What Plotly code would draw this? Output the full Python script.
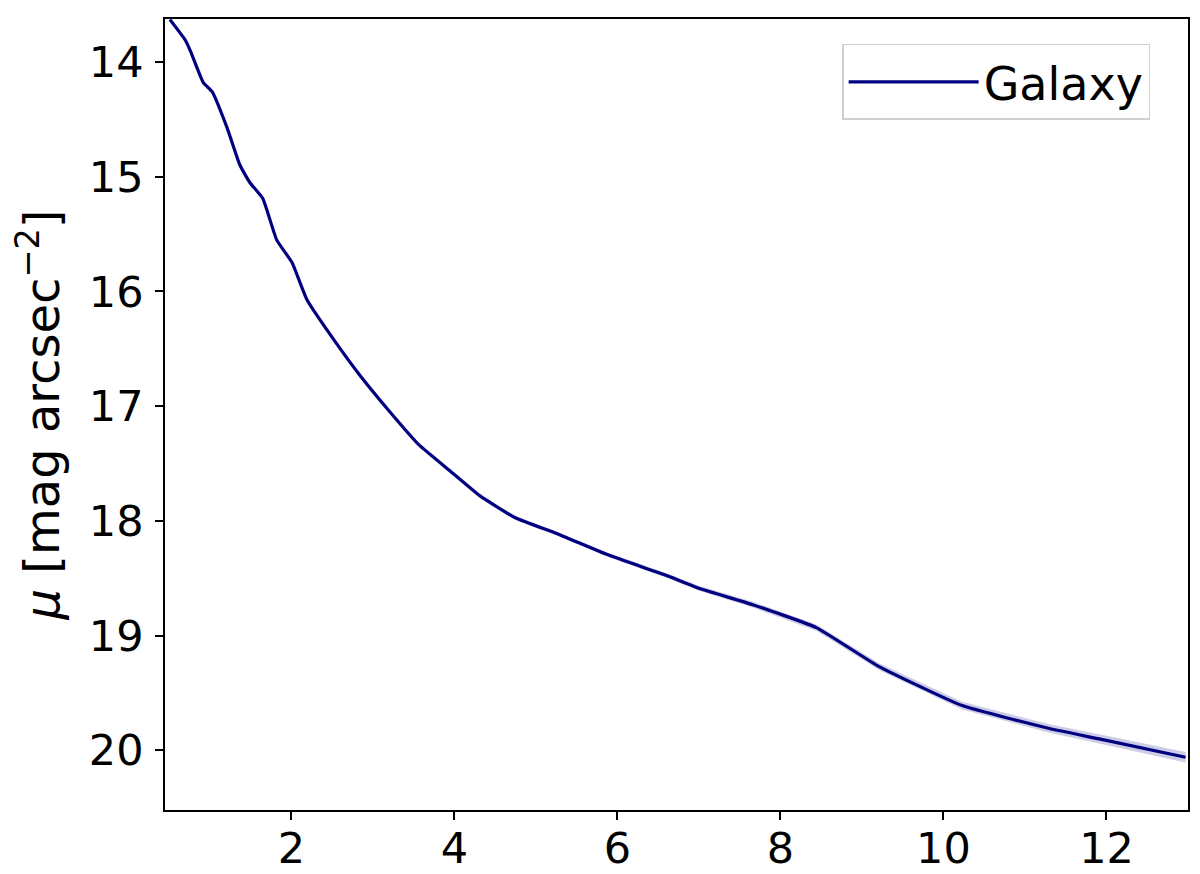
import plotly.graph_objects as go

radius = [0.51, 0.70, 0.76, 0.92, 1.03, 1.21, 1.37, 1.49, 1.65, 1.82, 2.01, 2.19, 2.59,
          2.84, 3.21, 3.57, 3.94, 4.31, 4.74, 5.29, 5.90, 6.58, 7.01, 7.66, 8.44,
          9.21, 10.23, 11.30, 11.91, 12.97]
mu = [13.63, 13.81, 13.90, 14.18, 14.26, 14.57, 14.90, 15.05, 15.19, 15.55, 15.75, 16.07, 16.49,
      16.73, 17.05, 17.34, 17.56, 17.78, 17.97, 18.12, 18.30, 18.47, 18.59, 18.73, 18.93,
      19.27, 19.61, 19.81, 19.90, 20.06]
mu_err = [0.005, 0.005, 0.005, 0.005, 0.005, 0.006, 0.006, 0.006, 0.007, 0.007, 0.008, 0.008, 0.009,
          0.01, 0.01, 0.011, 0.012, 0.013, 0.015, 0.017, 0.019, 0.02, 0.022, 0.025, 0.027,
          0.03, 0.033, 0.037, 0.04, 0.045]

upper = [m - e for m, e in zip(mu, mu_err)]
lower = [m + e for m, e in zip(mu, mu_err)]

fig = go.Figure()
fig.add_trace(go.Scatter(x=radius, y=upper, mode="lines", line=dict(width=0),
                         showlegend=False, hoverinfo="skip"))
fig.add_trace(go.Scatter(x=radius, y=lower, mode="lines", line=dict(width=0),
                         fill="tonexty", fillcolor="rgba(0,0,128,0.2)",
                         showlegend=False, hoverinfo="skip"))
fig.add_trace(go.Scatter(x=radius, y=mu, mode="lines", name="Galaxy",
                         line=dict(color="#000080", width=3.2, shape="spline", smoothing=0.4)))

axis_common = dict(showline=True, linecolor="black", linewidth=1.8, mirror=True,
                   ticks="outside", ticklen=8, tickwidth=1.8, tickcolor="black",
                   showgrid=False, zeroline=False, automargin=False,
                   tickfont=dict(family="DejaVu Sans", size=43, color="black"))

fig.update_layout(
    width=1200, height=874,
    paper_bgcolor="white", plot_bgcolor="white",
    margin=dict(l=157, r=20, t=11, b=72),
    font=dict(family="DejaVu Sans", color="black"),
    xaxis=dict(range=[0.45, 13.0], tickvals=[2, 4, 6, 8, 10, 12],
               ticklabelstandoff=-9, **axis_common),
    yaxis=dict(range=[20.52, 13.625], tickvals=[14, 15, 16, 17, 18, 19, 20],
               ticklabelstandoff=3,
               title=dict(text="<i>μ</i> [mag arcsec<sup>−2</sup>]",
                          font=dict(family="DejaVu Sans", size=48, color="black"),
                          standoff=18),
               **axis_common),
    legend=dict(x=0.963, y=0.9684, xanchor="right", yanchor="top",
                bgcolor="white", bordercolor="#d0d0d0", borderwidth=1.5,
                font=dict(family="DejaVu Sans", size=46, color="black"),
                itemwidth=130),
)

fig.write_html("out.html")
